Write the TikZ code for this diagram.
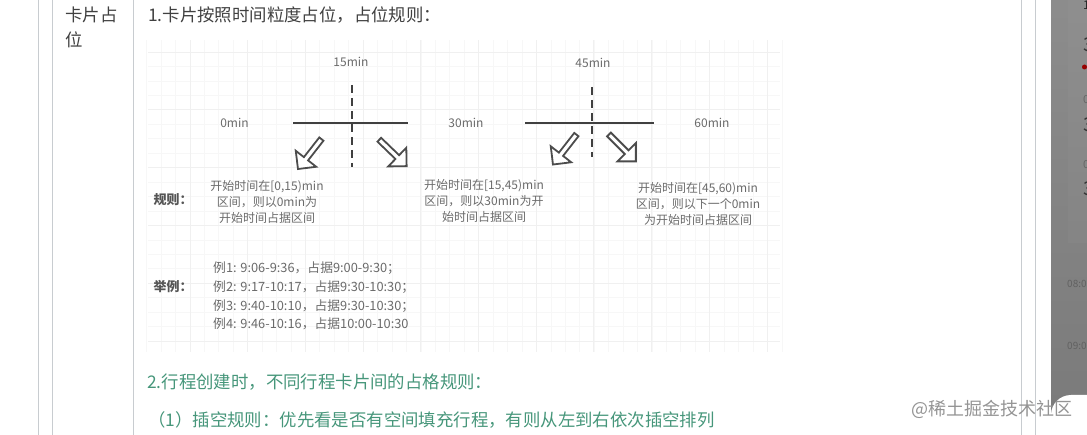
\documentclass[tikz,border=0pt]{standalone}
\usepackage{fontspec}
\setmainfont{Noto Sans CJK SC}
\usetikzlibrary{shapes.arrows}
\definecolor{tekstgrijs}{HTML}{404040}
\definecolor{plaatgrijs}{HTML}{6A6A6A}
\definecolor{groen}{HTML}{46967A}
\definecolor{rand}{HTML}{C8CCD0}
\tikzset{
  body/.style={anchor=base west, inner sep=0pt, text=#1, font=\fontsize{17.4}{25}\selectfont},
  body/.default=tekstgrijs,
  plaat/.style={inner sep=0pt, text=plaatgrijs, font=\fontsize{12}{16}\selectfont},
  kop/.style={inner sep=0pt, text=plaatgrijs!80!black, font=\fontsize{13}{16}\selectfont\bfseries},
  tijd/.style={inner sep=0pt, text=plaatgrijs, font=\fontsize{12}{16}\selectfont},
  regel/.style={align=center, plaat},
  aslijn/.style={draw=black!75, line width=1.5pt},
  snede/.style={draw=black!75, line width=1.4pt, dash pattern=on 8pt off 5pt},
  blok/.style={single arrow, draw=black!70, fill=white, line width=1.8pt, inner sep=0pt,
    minimum height=38pt, minimum width=26pt, single arrow head extend=3.5pt},
}
\begin{document}
\begin{tikzpicture}[x=1pt, y=-1pt]
\useasboundingbox (0,0) rectangle (1087,435);
% raster van de plaat
\foreach \k in {-3,...,41} {
  \draw[black!3, line width=1pt] ({190+14.44*\k},40) -- ({190+14.44*\k},352);
}
\foreach \k in {-4,...,16} {
  \draw[black!3, line width=1pt] (148,{110+14.45*\k}) -- (780,{110+14.45*\k});
}
\foreach \k in {0,...,10} {
  \draw[black!6, line width=1pt] ({190+57.7*\k},40) -- ({190+57.7*\k},352);
}
\foreach \k in {-1,...,4} {
  \draw[black!6, line width=1pt] (148,{110+57.8*\k}) -- (780,{110+57.8*\k});
}

% tabelranden
\foreach \x in {38.5,52,133,1021,1035} {
  \draw[rand, line width=0.9pt] (\x,0) -- (\x,435);
}

\node[body] (kaart1) at (65,22) {卡片占};
\node[body] (kaart2) at (65,47) {位};
\node[body] (titel) at (148,22) {1.卡片按照时间粒度占位，占位规则：};

% tijden
\node[tijd] (t0) at (234.5,123) {0min};
\node[tijd] (t15) at (351,62) {15min};
\node[tijd] (t30) at (466,123) {30min};
\node[tijd] (t45) at (593,63) {45min};
\node[tijd] (t60) at (712,123) {60min};

% assen
\coordinate (a1) at (293,123);
\coordinate (a2) at (408,123);
\coordinate (b1) at (352,85);
\coordinate (b2) at (352,167);
\coordinate (c1) at (525,123);
\coordinate (c2) at (654,123);
\coordinate (d1) at (592,87);
\coordinate (d2) at (592,157);
\draw[aslijn] (a1) -- (a2);
\draw[snede] (b1) -- (b2);
\draw[aslijn] (c1) -- (c2);
\draw[snede] (d1) -- (d2);

\node[blok, rotate=232] (p1) at (310.5,153) {};
\node[blok, rotate=-44] (p2) at (392,152) {};
\node[blok, rotate=232] (p3) at (565.5,148.5) {};
\node[blok, rotate=-45] (p4) at (621.5,147) {};

% regels
\node[kop] (kregel) at (173,200) {规则：};
\node[regel] (r1) at (267,201.5) {开始时间在[0,15)min\\区间，则以0min为\\开始时间占据区间};
\node[regel] (r2) at (484,201) {开始时间在[15,45)min\\区间，则以30min为开\\始时间占据区间};
\node[regel] (r3) at (698,204) {开始时间在[45,60)min\\区间，则以下一个0min\\为开始时间占据区间};

\node[kop] (kvoorbeeld) at (173,287) {举例：};
\node[plaat, anchor=west, align=left, font=\fontsize{12.8}{18.7}\selectfont] (vb) at (213,296) {例1: 9:06-9:36，占据9:00-9:30；\\例2: 9:17-10:17，占据9:30-10:30；\\例3: 9:40-10:10，占据9:30-10:30；\\例4: 9:46-10:16，占据10:00-10:30};

\node[body=groen] (groen1) at (147,389) {2.行程创建时，不同行程卡片间的占格规则：};
\node[body=groen] (groen2) at (148,427) {（1）插空规则：优先看是否有空间填充行程，有则从左到右依次插空排列};

% paneel rechts
\begin{scope}
\clip (1051,0) rectangle (1087,435);
\shade[top color=black!45, bottom color=black!52] (1051,0) rectangle (1087,420);
\shade[top color=black!44, bottom color=black!48] (1068,-10) rectangle (1097,243);
\node[anchor=west, inner sep=0pt, text=black!85, font=\fontsize{12}{12}\selectfont] (n0) at (1083,5) {1};
\node[anchor=west, inner sep=0pt, text=black!80, font=\fontsize{19}{19}\selectfont] (n1) at (1083,45) {3};
\fill[red!60!black] (1084.5,67) circle (2.5pt);
\node[anchor=west, inner sep=0pt, text=black!60, font=\fontsize{11}{11}\selectfont] (n2) at (1083,100) {0};
\node[anchor=west, inner sep=0pt, text=black!80, font=\fontsize{19}{19}\selectfont] (n3) at (1083,125) {3};
\node[anchor=west, inner sep=0pt, text=black!60, font=\fontsize{11}{11}\selectfont] (n4) at (1083,165) {0};
\node[anchor=west, inner sep=0pt, text=black!80, font=\fontsize{19}{19}\selectfont] (n5) at (1083,189) {3};
\node[anchor=west, inner sep=0pt, text=black!62, font=\fontsize{10}{10}\selectfont] (u8) at (1067,284) {08:00};
\node[anchor=west, inner sep=0pt, text=black!62, font=\fontsize{10}{10}\selectfont] (u9) at (1067,346) {09:00};
\fill[white, rounded corners=20pt] (1051,395) rectangle (1110,470);
\end{scope}

\node[anchor=west, inner sep=0pt, text=black!42, font=\fontsize{18}{18}\selectfont] (merk) at (911,409) {@稀土掘金技术社区};
\end{tikzpicture}
\end{document}
